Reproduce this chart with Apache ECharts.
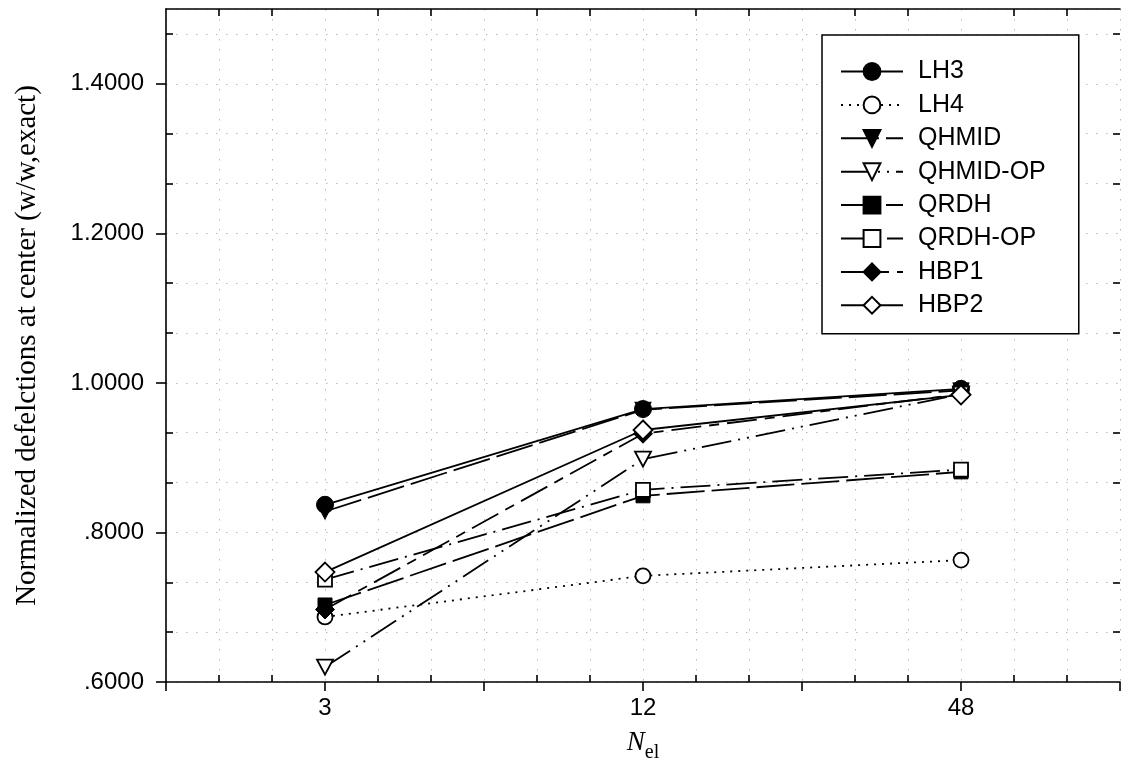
<!DOCTYPE html>
<html>
<head>
<meta charset="utf-8">
<script src="https://cdn.jsdelivr.net/npm/echarts@6/dist/echarts.min.js"></script>
<style>
  html, body { margin: 0; padding: 0; background: #fff; }
  #chart { width: 1123px; height: 769px; }
</style>
</head>
<body>
<div id="chart"></div>
<script>
// Number of elements (x) and normalized centre deflections w/w,exact (y)
const nel = [3, 12, 48];
const xTickLabels = [3, 12, 48];
const yTicks = [0.6, 0.8, 1.0, 1.2, 1.4];

const LH3      = [0.837, 0.965, 0.992];
const LH4      = [0.687, 0.742, 0.763];
const QHMID    = [0.828, 0.964, 0.990];
const QHMID_OP = [0.620, 0.898, 0.985];
const QRDH     = [0.703, 0.849, 0.881];
const QRDH_OP  = [0.737, 0.857, 0.884];
const HBP1     = [0.697, 0.932, 0.985];
const HBP2     = [0.747, 0.937, 0.984];

const seriesNames = ['LH3', 'LH4', 'QHMID', 'QHMID-OP', 'QRDH', 'QRDH-OP', 'HBP1', 'HBP2'];
const seriesValues = [LH3, LH4, QHMID, QHMID_OP, QRDH, QRDH_OP, HBP1, HBP2];

// marker and line appearance per series
const looks = [
  { symbol: 'circle',   size: 17,       filled: true,  rotate: 0,   dash: 'solid' },
  { symbol: 'circle',   size: 15,       filled: false, rotate: 0,   dash: [2, 6] },
  { symbol: 'triangle', size: [16, 15], filled: true,  rotate: 180, dash: [38, 7] },
  { symbol: 'triangle', size: [16, 15], filled: false, rotate: 180, dash: [30, 7, 2, 7, 2, 7] },
  { symbol: 'rect',     size: 14,       filled: true,  rotate: 0,   dash: [38, 7] },
  { symbol: 'rect',     size: 14,       filled: false, rotate: 0,   dash: [30, 7, 2, 7] },
  { symbol: 'diamond',  size: 19,       filled: true,  rotate: 0,   dash: [30, 8, 10, 8] },
  { symbol: 'diamond',  size: 19,       filled: false, rotate: 0,   dash: 'solid' }
];

// x is plotted on a base-2 log scale, counted in doublings from the first N
const xPos = n => Math.log2(n / nel[0]);
const isNear = (a, b) => Math.abs(a - b) < 1e-6;

// helper grid axis for y works in units of 1/15 (three grid steps per labelled step)
const yGridUnit = 1 / 15;
const yGridMin = Math.round(0.6 / yGridUnit);
const yGridMax = 1.5 / yGridUnit;
const yMinorTicks = [];
for (let k = yGridMin; k <= Math.floor(yGridMax); k++) {
  if (k % 3 !== 0) yMinorTicks.push(k);
}

const dotted = { color: '#b8b8b8', width: 1, type: [1.5, 8.5] };
const black = { color: '#000', width: 1.6 };

const series = seriesNames.map((name, i) => {
  const lk = looks[i];
  return {
    name: name,
    type: 'line',
    xAxisIndex: 0,
    yAxisIndex: 0,
    data: nel.map((n, j) => [xPos(n), seriesValues[i][j]]),
    symbol: lk.symbol,
    symbolSize: lk.size,
    symbolRotate: lk.rotate,
    showAllSymbol: true,
    lineStyle: { color: '#000', width: 1.8, type: lk.dash },
    itemStyle: lk.filled
      ? { color: '#000', borderColor: '#000', borderWidth: 1 }
      : { color: '#fff', borderColor: '#000', borderWidth: 1.8 },
    emphasis: { disabled: true },
    z: 2 + i * 0.01
  };
});

const chart = echarts.init(document.getElementById('chart'), null, { renderer: 'canvas' });

chart.setOption({
  animation: false,
  backgroundColor: '#fff',
  grid: { left: 166, top: 9, width: 958, height: 673, containLabel: false },
  legend: {
    orient: 'vertical',
    left: 822,
    top: 35,
    padding: [24, 33, 16, 18],
    backgroundColor: '#fff',
    borderColor: '#000',
    borderWidth: 1.5,
    itemWidth: 62,
    itemHeight: 21,
    itemGap: 8.4,
    selectedMode: false,
    data: seriesNames,
    textStyle: {
      fontFamily: '"Liberation Sans", Arial, sans-serif',
      fontSize: 25,
      lineHeight: 25,
      color: '#000',
      padding: [0, 0, 0, 10]
    }
  },
  xAxis: [
    {
      type: 'value',
      position: 'bottom',
      min: -1, max: 5, interval: 1,
      axisLine: { show: true, onZero: false, lineStyle: black },
      axisTick: { show: true, inside: false, length: 9, lineStyle: black },
      minorTick: { show: false, splitNumber: 3 },
      axisLabel: {
        margin: 14,
        color: '#000',
        fontFamily: '"Liberation Sans", Arial, sans-serif',
        fontSize: 24,
        formatter: v => {
          const n = nel[0] * Math.pow(2, v);
          return xTickLabels.some(t => isNear(t, n)) ? String(Math.round(n)) : '';
        }
      },
      splitLine: { show: true, lineStyle: dotted },
      minorSplitLine: { show: true, lineStyle: dotted },
      name: '{n|N}{s|el}',
      nameLocation: 'middle',
      nameGap: 47,
      nameTextStyle: {
        rich: {
          n: { fontFamily: '"Liberation Serif", "Times New Roman", serif', fontStyle: 'italic', fontSize: 27, lineHeight: 30, verticalAlign: 'top', color: '#000' },
          s: { fontFamily: '"Liberation Serif", "Times New Roman", serif', fontSize: 20, lineHeight: 20, verticalAlign: 'top', padding: [14, 0, 0, 0], color: '#000' }
        }
      }
    },
    {
      type: 'value',
      position: 'bottom',
      min: -1, max: 5, interval: 1,
      axisLine: { show: false, onZero: false },
      axisTick: { show: false, inside: true },
      minorTick: { show: true, splitNumber: 3, length: 7, lineStyle: black },
      axisLabel: { show: false },
      splitLine: { show: false }
    },
    {
      type: 'value',
      position: 'top',
      min: -1, max: 5, interval: 1,
      axisLine: { show: true, onZero: false, lineStyle: black },
      axisTick: { show: false, inside: true },
      minorTick: { show: true, splitNumber: 3, length: 7, lineStyle: black },
      axisLabel: { show: false },
      splitLine: { show: false }
    }
  ],
  yAxis: [
    {
      type: 'value',
      position: 'left',
      min: 0.6, max: 1.5, interval: 0.2,
      axisLine: { show: true, onZero: false, lineStyle: black },
      axisTick: { show: true, inside: false, length: 10, lineStyle: black },
      axisLabel: {
        margin: 22,
        showMaxLabel: false,
        color: '#000',
        fontFamily: '"Liberation Sans", Arial, sans-serif',
        fontSize: 24,
        formatter: v => yTicks.some(t => isNear(t, v)) ? v.toFixed(4).replace(/^0/, '') : ''
      },
      splitLine: { show: true, lineStyle: dotted },
      name: 'Normalized defelctions at center (w/w,exact)',
      nameLocation: 'middle',
      nameRotate: 90,
      nameGap: 124,
      nameTextStyle: {
        fontFamily: '"Liberation Serif", "Times New Roman", serif',
        fontSize: 29,
        color: '#000'
      }
    },
    {
      type: 'value',
      position: 'left',
      min: yGridMin, max: yGridMax, interval: 1,
      axisLine: { show: false, onZero: false },
      axisTick: { show: true, inside: true, length: 7, lineStyle: black, customValues: yMinorTicks },
      axisLabel: { show: false },
      splitLine: { show: true, lineStyle: dotted }
    },
    {
      type: 'value',
      position: 'right',
      min: yGridMin, max: yGridMax, interval: 1,
      axisLine: { show: false, onZero: false },
      axisTick: { show: true, inside: true, length: 7, lineStyle: black, customValues: yMinorTicks },
      axisLabel: { show: false },
      splitLine: { show: false }
    }
  ],
  series: series
});
</script>
</body>
</html>
